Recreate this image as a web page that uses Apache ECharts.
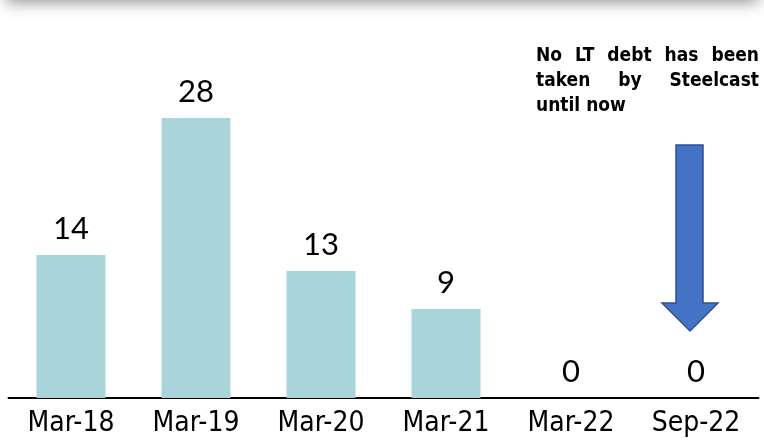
<!DOCTYPE html>
<html>
<head>
	<meta charset="utf-8">
	<title>LT debt</title>
	<script src="https://cdn.jsdelivr.net/npm/echarts@6/dist/echarts.min.js"></script>
	<style>
		html, body { margin: 0; padding: 0; background: #fff; }
	</style>
</head>
<body>
    <div id="main" style="width: 764px;height:442px;"></div>
    <script type="text/javascript">
		// data
		var categories = ['Mar-18', 'Mar-19', 'Mar-20', 'Mar-21', 'Mar-22', 'Sep-22'];
		var debtValues = [14.3, 28, 12.7, 8.9, 0, 0];
		var noteLines = [
			['No', 'LT', 'debt', 'has', 'been'],
			['taken', 'by', 'Steelcast'],
			['until now']
		];

		var myChart = echarts.init(document.getElementById('main'));

		// justified note text, one text element per word
		var noteLeft = 536, noteRight = 759, noteTop = 47, lineH = 25;
		var noteFamily = 'DejaVu Sans Condensed', noteSize = 19;
		var graphics = [];

		// top shadow band
		graphics.push({
			type: 'rect',
			shape: { x: 6, y: -40, width: 752, height: 40 },
			style: { fill: '#fff', shadowBlur: 16, shadowColor: 'rgba(0,0,0,0.45)', shadowOffsetY: 2 },
			silent: true
		});

		var measureCtx = document.createElement('canvas').getContext('2d');
		measureCtx.font = 'bold ' + noteSize + 'px "' + noteFamily + '"';
		function wordText(w, x, y) {
			return { type: 'text', left: x, top: y,
				style: { text: w, fontFamily: noteFamily, fontSize: noteSize, fontWeight: 'bold', fill: '#000' } };
		}
		noteLines.forEach(function (words, li) {
			var y = noteTop + li * lineH;
			if (words.length === 1) {
				graphics.push(wordText(words[0], noteLeft, y));
				return;
			}
			var total = 0;
			words.forEach(function (w) { total += measureCtx.measureText(w).width; });
			var gap = (noteRight - noteLeft - total) / (words.length - 1);
			var x = noteLeft;
			words.forEach(function (w) {
				graphics.push(wordText(w, x, y));
				x += measureCtx.measureText(w).width + gap;
			});
		});

		// down arrow
		graphics.push({
			type: 'polygon',
			shape: { points: [[676, 145], [703, 145], [703, 303], [718, 303], [690, 331], [662, 303], [676, 303]] },
			style: { fill: '#4472C4', stroke: '#2F528F', lineWidth: 1.5 }
		});

		var option = {
			animation: false,
			grid: { left: 8.5, right: 5.5, top: 118, bottom: 44, containLabel: false },
			xAxis: {
				type: 'category',
				data: categories,
				axisLine: { lineStyle: { color: '#000', width: 2 } },
				axisTick: { show: false },
				axisLabel: { color: '#000', fontSize: 28, fontFamily: 'DejaVu Sans Condensed', margin: 12 }
			},
			yAxis: {
				type: 'value',
				min: 0,
				max: 28,
				show: false,
				splitLine: { show: false }
			},
			series: [{
				type: 'bar',
				data: debtValues,
				barWidth: 69,
				itemStyle: { color: '#A9D4DA' },
				label: {
					show: true,
					position: 'top',
					distance: 11,
					color: '#000',
					fontSize: 31,
					fontFamily: 'Lato',
					formatter: function (p) { return Math.round(p.value); }
				}
			}],
			graphic: graphics
		};

        myChart.setOption(option);
    </script>
</body>
</html>
